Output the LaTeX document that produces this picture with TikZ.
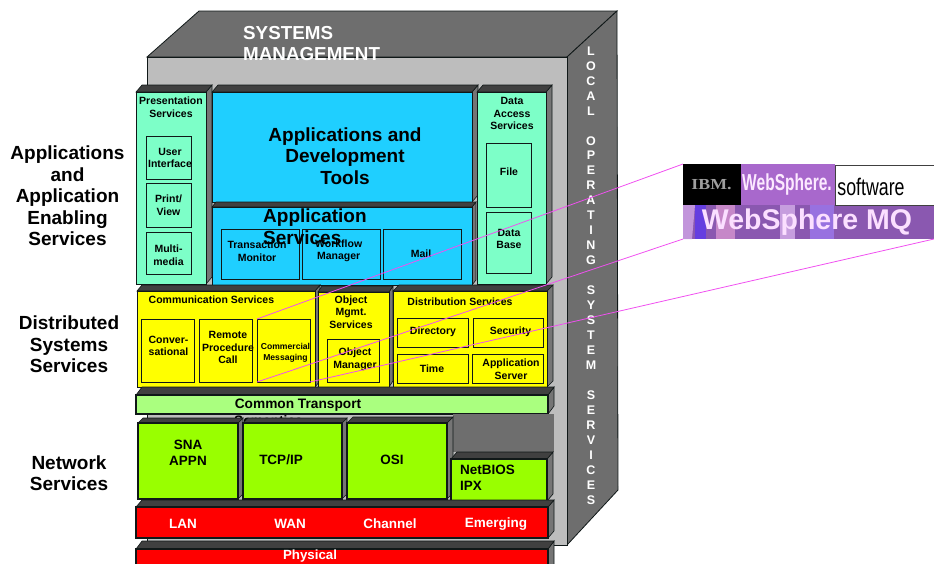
\documentclass[tikz,border=0pt]{standalone}
\usepackage{fontspec}
\setmainfont{Liberation Sans}
\newfontfamily\ibmfont{Liberation Serif}
\definecolor{aquabox}{HTML}{7DFFC8}
\definecolor{cyanbox}{HTML}{1FCFFF}
\definecolor{yellowbox}{HTML}{FFFF00}
\definecolor{palegreen}{HTML}{AAFF7F}
\definecolor{limebox}{HTML}{99FF00}
\definecolor{redbox}{HTML}{FF0000}
\definecolor{midgrey}{HTML}{6E6E6E}
\definecolor{lightgrey}{HTML}{BDBDBD}
\definecolor{topdark}{HTML}{404040}
\definecolor{sidegrey}{HTML}{757575}
\definecolor{edge}{HTML}{101818}
\definecolor{wire}{HTML}{F050F0}
\definecolor{wsviolet}{HTML}{A868CC}
\definecolor{wsstrip}{HTML}{8A58B0}
\definecolor{wspink}{HTML}{FBDFFF}
\newcommand{\txt}[2]{\fontsize{#1}{#2}\selectfont\bfseries}
\newcommand{\threed}[8]{% x1 y1 x2 y2 fill dx line-width dy
  \fill[sidegrey,draw=edge,line width=.6pt] (#3,#2) -- (#3+#6,#2-#8) -- (#3+#6,#4-#8) -- (#3,#4) -- cycle;
  \fill[topdark,draw=edge,line width=.6pt] (#1,#2) -- (#1+#6,#2-#8) -- (#3+#6,#2-#8) -- (#3,#2) -- cycle;
  \draw[fill=#5,draw=edge,line width=#7] (#1,#2) rectangle (#3,#4);}
\tikzset{
  x=1pt,y=-1pt,
  sub/.style={draw=edge,line width=.9pt,fill=#1},
  lab/.style={inner sep=0pt,align=center,text=black},
  lab10/.style={lab,font=\txt{10.5}{12.6}},
  lab13/.style={lab,font=\txt{13.5}{16}},
  lab19/.style={lab,font=\txt{19}{21.6}},
  side/.style={lab,font=\txt{19}{21.6}},
  whitelab/.style={lab,text=white,font=\txt{13.5}{16}},
  wirelink/.style={wire,line width=.8pt},
}
\begin{document}
\begin{tikzpicture}
\useasboundingbox (0,0) rectangle (934,563);
\clip (0,0) rectangle (934,563);
% main block
\fill[midgrey,draw=edge,line width=.8pt] (147,57) -- (199,11) -- (617,11) -- (567,57) -- cycle;
\fill[midgrey,draw=edge,line width=.8pt] (567,57) -- (617,11) -- (618,490) -- (567,545) -- cycle;
\fill[lightgrey,draw=edge,line width=.8pt] (147,57) rectangle (567,545);
\node[lab,text=white,anchor=north west,align=left,font=\txt{18.8}{21}] (sysmgmt) at (243,26) {SYSTEMS\\MANAGEMENT};
\node[lab,text=white,font=\txt{12.5}{14.97}] (localos) at (591,275.5) {L\\O\\C\\A\\L\\[14.97pt]O\\P\\E\\R\\A\\T\\I\\N\\G\\[14.97pt]S\\Y\\S\\T\\E\\M\\[14.97pt]S\\E\\R\\V\\I\\C\\E\\S};
% left labels
\node[side] (lblapps) at (67.5,196) {Applications\\and\\Application\\Enabling\\Services};
\node[side] (lbldist) at (69,344.5) {Distributed\\Systems\\Services};
\node[side] (lblnet) at (69,473) {Network\\Services};
% Presentation
\threed{136}{92}{206}{284}{aquabox}{6}{1pt}{7}
\draw[sub=aquabox] (146,136) rectangle (191,179);
\draw[sub=aquabox] (146,183) rectangle (191,227);
\draw[sub=aquabox] (146,232) rectangle (191,274);
\node[lab10] (pres) at (171,107) {Presentation\\Services};
\node[lab10] (ui) at (170,158) {User\\Interface};
\node[lab10] (print) at (168.5,205) {Print/\\View};
\node[lab10] (multi) at (168.5,255) {Multi-\\media};
% Applications
\threed{212}{92}{472}{202}{cyanbox}{6}{1pt}{7}
\node[lab19] (apptools) at (345,156) {Applications and\\Development\\Tools};
\threed{212}{207}{472}{285}{cyanbox}{4}{1pt}{5}
\draw[sub=cyanbox] (221,229) rectangle (299,279);
\draw[sub=cyanbox] (302,229) rectangle (380,279);
\draw[sub=cyanbox] (383,229) rectangle (461,279);
\node[lab19,align=left,anchor=north west] (appsvc) at (263,209) {Application\\Services};
\node[lab10] (trans) at (257,251) {Transaction\\Monitor};
\node[lab10] (work) at (338.7,251) {Workflow\\Manager};
\node[lab10] (mail) at (421,254) {Mail};
% Data access
\threed{477}{92}{546}{284}{aquabox}{6}{1pt}{7}
\draw[sub=aquabox] (486,143) rectangle (531,207);
\draw[sub=aquabox] (486,212) rectangle (531,273);
\node[lab10] (data) at (512,113.5) {Data\\Access\\Services};
\node[lab10] (file) at (509,172) {File};
\node[lab10] (dbase) at (509,239) {Data\\Base};
% Communication
\threed{137}{291}{315}{387}{yellowbox}{5}{1pt}{6}
\draw[sub=yellowbox] (141,319) rectangle (194,382);
\draw[sub=yellowbox] (199,319) rectangle (252,382);
\node[sub=yellowbox,minimum width=53pt,minimum height=63pt,inner sep=0pt,outer sep=0pt] (cm) at (283.5,350.5) {};
\node[lab10,anchor=west] (commsvc) at (148.5,300) {Communication Services};
\node[lab10,align=left] (conv) at (168.5,346) {Conver-\\sational};
\node[lab10] (rpc) at (228,347.5) {Remote\\Procedure\\Call};
\node[lab,font=\txt{8.6}{11}] (cmtext) at (285.5,353) {Commercial\\Messaging};
% Object
\threed{318}{292}{389}{387}{yellowbox}{4}{1pt}{6}
\draw[sub=yellowbox] (327,339) rectangle (379,382);
\node[lab10] (objsvc) at (351,312) {Object\\Mgmt.\\Services};
\node[lab10] (objmgr) at (355,359.5) {Object\\Manager};
% Distribution
\threed{393}{291}{547}{387}{yellowbox}{6}{1pt}{6}
\draw[sub=yellowbox] (397,318) rectangle (468,347);
\draw[sub=yellowbox] (473,318) rectangle (543,347);
\draw[sub=yellowbox] (397,354) rectangle (468,383);
\draw[sub=yellowbox] (472,354) rectangle (543,383);
\node[lab10] (distsvc) at (460,302) {Distribution Services};
\node[lab10] (dir) at (433,332) {Directory};
\node[lab10] (sec) at (510.5,332) {Security};
\node[lab10] (time) at (432,369) {Time};
\node[lab10] (appsrv) at (511,369) {Application\\Server};
% Common transport
\threed{136}{395}{548}{414}{palegreen}{6}{2pt}{8}
\node[lab,font=\txt{13.7}{16}] (common) at (298,405) {Common Transport};
\node[lab,font=\txt{13.7}{16}] (semantics) at (268.5,420.5) {Semantics};
% Network
\fill[midgrey] (453,414) rectangle (554,452);
\threed{138}{423}{238}{499}{limebox}{5}{2pt}{5}
\threed{243}{423}{342}{499}{limebox}{5}{2pt}{5}
\threed{347}{423}{447}{499}{limebox}{6}{2pt}{6}
\threed{451}{459}{547}{501}{limebox}{6}{2pt}{7}
\node[lab13] (sna) at (188,453) {SNA\\APPN};
\node[lab13] (tcp) at (281,460) {TCP/IP};
\node[lab13] (osi) at (392,460) {OSI};
\node[lab13,align=left,anchor=west] (netbios) at (460,477.5) {NetBIOS\\IPX};
% Red layers
\threed{136}{507}{548}{538}{redbox}{6}{2pt}{7}
\node[whitelab] (lan) at (183,524) {LAN};
\node[whitelab] (wan) at (290,524) {WAN};
\node[whitelab] (chan) at (390,524) {Channel};
\node[whitelab] (emer) at (496,524) {Emerging};
\threed{136}{549}{548}{575}{redbox}{6}{2pt}{8}
\node[whitelab,font=\txt{13.3}{15}] (phys) at (310,556) {Physical};
% Logo
\node[fill=wsstrip,minimum width=251pt,minimum height=34pt,inner sep=0pt,outer sep=0pt] (strip) at (808.5,222) {};
\fill[black] (683,164) rectangle (741,205);
\fill[wsviolet] (741,164) rectangle (835,205);
\fill[white,draw=topdark,line width=1pt] (835,165) rectangle (934,205);
\node[fill=none,minimum width=251pt,minimum height=75pt,inner sep=0pt,outer sep=0pt] (logo) at (808.5,201.5) {};
\fill[wsviolet!70!white] (683,205) -- (695,205) -- (692,239) -- (683,239) -- cycle;
\fill[wsviolet!60!blue] (695,205) rectangle (706,239);
\fill[wsviolet!65!pink] (716,205) rectangle (735,239);
\fill[wsviolet!65!white] (780,205) rectangle (795,239);
\fill[wsviolet!75!blue!80!white] (810,205) rectangle (834,239);
\node[lab,text=gray!75,font=\ibmfont\bfseries\fontsize{17}{17}\selectfont] (ibm) at (711.5,185) {\scalebox{1.05}[.9]{IBM.}};
\node[lab,text=wspink!70!white,font=\txt{21}{21}] (ws) at (787,184.5) {\scalebox{.74}[1.1]{WebSphere.}};
\node[lab,text=black,font=\fontsize{24}{24}\selectfont] (sw) at (871,186.5) {\scalebox{.74}[1]{software}};
\node[lab,text=wspink,font=\txt{28.5}{29}] (wsmq) at (807,222) {WebSphere MQ};
% Links
\draw[wirelink] (cm.north west) -- (logo.north west);
\draw[wirelink] (cm.south west) -- (logo.south west);
\draw[wirelink] (cm.south east) -- (logo.south east);
\end{tikzpicture}
\end{document}
